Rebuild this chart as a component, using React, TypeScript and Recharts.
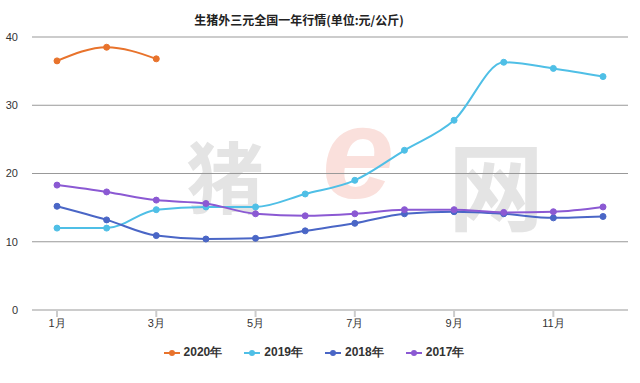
import React from 'react';
import { LineChart, Line, XAxis, YAxis, CartesianGrid, Legend } from 'recharts';

const months = ['1月', '2月', '3月', '4月', '5月', '6月', '7月', '8月', '9月', '10月', '11月', '12月'];
const y2020 = [36.5, 38.5, 36.8];
const y2019 = [12.0, 12.0, 14.7, 15.1, 15.1, 17.0, 19.0, 23.4, 27.8, 36.3, 35.4, 34.2];
const y2018 = [15.2, 13.2, 10.9, 10.4, 10.5, 11.6, 12.7, 14.1, 14.4, 14.1, 13.5, 13.7];
const y2017 = [18.3, 17.3, 16.1, 15.6, 14.1, 13.8, 14.1, 14.7, 14.7, 14.3, 14.4, 15.1];
const yTicks = [0, 10, 20, 30, 40];

const series = [
    { key: 'y2020', name: '2020年', color: '#e8732c' },
    { key: 'y2019', name: '2019年', color: '#4fbfe6' },
    { key: 'y2018', name: '2018年', color: '#4a66c6' },
    { key: 'y2017', name: '2017年', color: '#8b59d3' },
];

const data = months.map((m, i) => ({
    month: m,
    y2020: y2020[i],
    y2019: y2019[i],
    y2018: y2018[i],
    y2017: y2017[i],
}));

const font = '"Liberation Sans", Arial, sans-serif';

const LegendContent = () => (
    <div style={{ display: 'flex', justifyContent: 'center', gap: 22, fontFamily: font, fontSize: 12, fontWeight: 'bold', color: '#333' }}>
        {series.map(s => (
            <span key={s.key} style={{ display: 'inline-flex', alignItems: 'center', gap: 4 }}>
                <svg width={16} height={8}>
                    <line x1={0} y1={4} x2={16} y2={4} stroke={s.color} strokeWidth={2} />
                    <circle cx={8} cy={4} r={3} fill={s.color} />
                </svg>
                {s.name}
            </span>
        ))}
    </div>
);

const App: React.FC = () => {
    return (
        <div style={{ position: 'absolute', left: 0, top: 0, width: 640, height: 383, background: '#fff', overflow: 'hidden' }}>
            {/* watermark */}
            <div style={{ position: 'absolute', left: 186, top: 118, fontSize: 78, color: '#e4e4e4', fontFamily: '"Noto Sans CJK SC"', fontWeight: 'bold' }}>猪</div>
            <div style={{ position: 'absolute', left: 322, top: 88, fontSize: 130, color: '#fae0dc', fontFamily: font, fontStyle: 'italic', fontWeight: 'bold', lineHeight: 1 }}>e</div>
            <div style={{ position: 'absolute', left: 448, top: 112, fontSize: 96, color: '#e4e4e4', fontFamily: '"Noto Sans CJK SC"', fontWeight: 'bold' }}>网</div>
            <div style={{ position: 'absolute', left: 0, top: 11, width: 598, textAlign: 'center', fontSize: 12, fontWeight: 'bold', color: '#222', fontFamily: '"Noto Sans CJK SC"' }}>
                生猪外三元全国一年行情(单位:元/公斤)
            </div>
            <LineChart
                width={640}
                height={383}
                data={data}
                margin={{ top: 37, right: 12, left: 0, bottom: 17 }}
                style={{ position: 'absolute', left: 0, top: 0 }}
            >
                <CartesianGrid vertical={false} stroke="#999" />
                <XAxis
                    dataKey="month"
                    interval={1}
                    height={34}
                    padding={{ left: 25, right: 25 }}
                    stroke="#ccc"
                    strokeWidth={2}
                    tickSize={7}
                    tick={{ fill: '#333', fontSize: 11, fontFamily: font }}
                />
                <YAxis
                    width={32}
                    domain={[0, 40]}
                    ticks={yTicks}
                    axisLine={false}
                    tickLine={false}
                    tickSize={0}
                    tickMargin={14}
                    tick={{ fill: '#333', fontSize: 11, fontFamily: font }}
                />
                <Legend verticalAlign="bottom" content={LegendContent} wrapperStyle={{ height: 22 }} />
                {series.map(s => (
                    <Line
                        key={s.key}
                        type="monotone"
                        dataKey={s.key}
                        name={s.name}
                        stroke={s.color}
                        strokeWidth={2}
                        dot={{ r: 3, fill: s.color, stroke: s.color, strokeWidth: 1 }}
                        isAnimationActive={false}
                    />
                ))}
            </LineChart>
        </div>
    );
};

export default App;
